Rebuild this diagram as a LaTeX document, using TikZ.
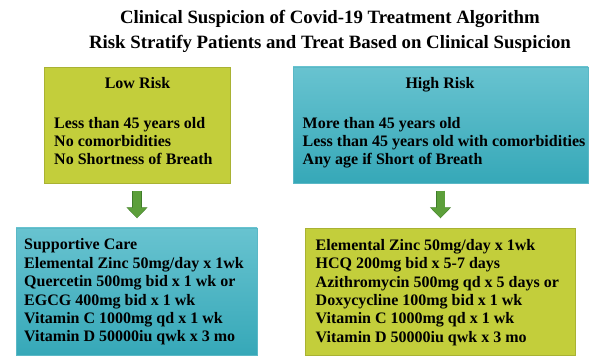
\documentclass[tikz,border=0pt]{standalone}
\usepackage{fontspec}
\setmainfont{Liberation Serif}
\usetikzlibrary{arrows.meta}
\definecolor{ygreen}{HTML}{C3CE3B}
\definecolor{ygreenb}{HTML}{A9B233}
\definecolor{tealtop}{HTML}{68C3D0}
\definecolor{tealbot}{HTML}{36A8B8}
\definecolor{tealb}{HTML}{5AB8C6}
\definecolor{arrowg}{HTML}{5C9F3A}
\definecolor{arrowd}{HTML}{3F7C29}
\tikzset{
  lowbox/.style={draw=ygreenb, fill=ygreen, line width=0.8pt},
  highbox/.style={draw=tealb, top color=tealtop, bottom color=tealbot, line width=0.8pt},
  boxtext/.style={font=\fontsize{16}{18.4}\selectfont\bfseries, align=left, anchor=north west, inner sep=0pt},
  headtext/.style={font=\fontsize{16}{18.4}\selectfont\bfseries, anchor=base, inner sep=0pt},
  downarrow/.style={line width=8pt, arrowg, -{Triangle[width=19pt,length=10pt]}, shorten <=8pt, shorten >=10pt},
  downarrowout/.style={line width=9.4pt, arrowd, -{Triangle[width=20.6pt,length=11pt]}, shorten <=7.3pt, shorten >=9.3pt}
}
\begin{document}
\begin{tikzpicture}[x=1pt,y=1pt]
\useasboundingbox (0,0) rectangle (605,363);
% title
\node[font=\fontsize{18.8}{24.4}\selectfont\bfseries, align=center, inner sep=0pt, anchor=north] (title) at (330,352.5)
  {Clinical Suspicion of Covid-19 Treatment Algorithm\\Risk Stratify Patients and Treat Based on Clinical Suspicion};
% boxes
\node[lowbox, minimum width=186pt, minimum height=116pt, inner sep=0pt] (low) at (137,238) {};
\node[highbox, minimum width=295pt, minimum height=116pt, inner sep=0pt] (high) at (440.5,238) {};
\node[highbox, minimum width=241pt, minimum height=127pt, inner sep=0pt] (lowtx) at (136.5,71.5) {};
\node[lowbox, minimum width=270pt, minimum height=127pt, inner sep=0pt] (hightx) at (440,71.5) {};
% texts
\node[headtext] (lowhead) at (137.5,274) {Low Risk};
\node[boxtext] (lowlist) at (54,246.2) {Less than 45 years old\\No comorbidities\\No Shortness of Breath};
\node[headtext] (highhead) at (440,274) {High Risk};
\node[boxtext] (highlist) at (302.5,246.2) {More than 45 years old\\Less than 45 years old with comorbidities\\Any age if Short of Breath};
\node[boxtext] (lowtxlist) at (24,124.3) {Supportive Care\\Elemental Zinc 50mg/day x 1wk\\Quercetin 500mg bid x 1 wk or\\EGCG 400mg bid x 1 wk\\Vitamin C 1000mg qd x 1 wk\\Vitamin D 50000iu qwk x 3 mo};
\node[boxtext] (hightxlist) at (315.5,124) {Elemental Zinc 50mg/day x 1wk\\HCQ 200mg bid x 5-7 days\\Azithromycin 500mg qd x 5 days or\\Doxycycline 100mg bid x 1 wk\\Vitamin C 1000mg qd x 1 wk\\Vitamin D 50000iu qwk x 3 mo};
% arrows
\draw[downarrowout] (low.south) -- (low.south |- lowtx.north);
\draw[downarrow] (low.south) -- (low.south |- lowtx.north);
\draw[downarrowout] (high.south) -- (high.south |- hightx.north);
\draw[downarrow] (high.south) -- (high.south |- hightx.north);
\end{tikzpicture}
\end{document}
